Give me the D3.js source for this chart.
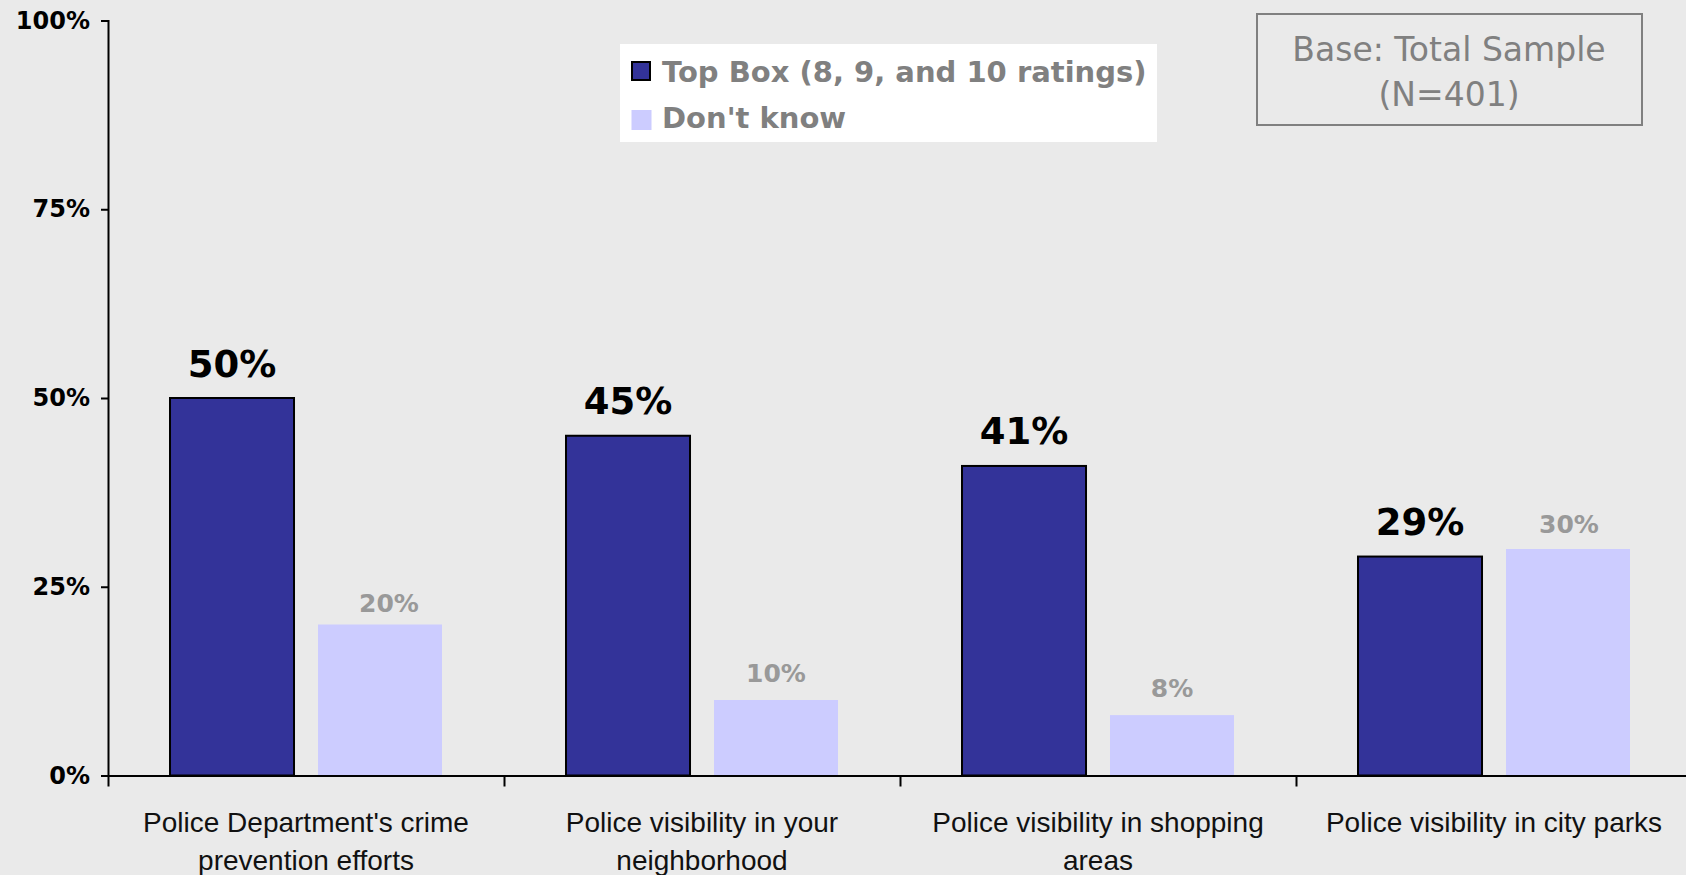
<!DOCTYPE html>
<html>
<head>
<meta charset="utf-8">
<script src="https://cdn.jsdelivr.net/npm/d3@7"></script>
<style>
  html, body { margin: 0; padding: 0; background: #EAEAEA; }
  svg { display: block; }
</style>
</head>
<body>
<script>
// Survey ratings of police performance
const categories = [
  ["Police Department's crime", "prevention efforts"],
  ["Police visibility in your", "neighborhood"],
  ["Police visibility in shopping", "areas"],
  ["Police visibility in city parks"]
];
const seriesNames = ["Top Box (8, 9, and 10 ratings)", "Don't know"];
const topBox = [50, 45, 41, 29];
const dontKnow = [20, 10, 8, 30];
const yTicks = [0, 25, 50, 75, 100];
const baseNote = ["Base: Total Sample", "(N=401)"];

const W = 1686, H = 875;
const colors = ["#333399", "#CCCCFF"];

const svg = d3.select("body").append("svg")
  .attr("width", W).attr("height", H);

svg.append("rect").attr("width", W).attr("height", H).attr("fill", "#EAEAEA");

const y = d3.scaleLinear().domain([0, 100]).range([775.5, 20.5]);
const x0 = d3.scaleBand()
  .domain(categories.map((d, i) => i))
  .range([108, 108 + 396 * categories.length]);
const x1 = d3.scaleBand()
  .domain([0, 1])
  .range([0, x0.bandwidth()])
  .paddingInner(0.162)
  .paddingOuter(0.419);

const series = [topBox, dontKnow];

// bars
series.forEach((vals, s) => {
  svg.append("g").selectAll("rect")
    .data(vals)
    .join("rect")
    .attr("x", (d, i) => x0(i) + x1(s))
    .attr("y", d => y(d))
    .attr("width", x1.bandwidth())
    .attr("height", d => y(0) - y(d))
    .attr("fill", colors[s])
    .attr("stroke", s === 0 ? "#000" : "none")
    .attr("stroke-width", 2);
});

// value labels
svg.append("g").selectAll("text")
  .data(topBox)
  .join("text")
  .attr("x", (d, i) => x0(i) + x1(0) + x1.bandwidth() / 2)
  .attr("y", d => y(d) - 21.5)
  .attr("text-anchor", "middle")
  .attr("font-family", "DejaVu Sans")
  .attr("font-weight", "bold")
  .attr("font-size", 37)
  .attr("fill", "#000")
  .text(d => d + "%");

// hand-placed nudges for the "Don't know" labels
const dkNudgeX = [9, 0, 0, 1];
const dkNudgeY = [12.5, 18.5, 18.5, 16];
svg.append("g").selectAll("text")
  .data(dontKnow)
  .join("text")
  .attr("x", (d, i) => x0(i) + x1(1) + x1.bandwidth() / 2 + dkNudgeX[i])
  .attr("y", (d, i) => y(d) - dkNudgeY[i])
  .attr("text-anchor", "middle")
  .attr("font-family", "DejaVu Sans")
  .attr("font-weight", "bold")
  .attr("font-size", 25)
  .attr("fill", "#999999")
  .text(d => d + "%");

// y axis
const yAxis = svg.append("g")
  .attr("transform", "translate(108,0)")
  .call(d3.axisLeft(y).tickValues(yTicks).tickFormat(d => d + "%")
    .tickSizeInner(7).tickSizeOuter(7).tickPadding(11));
yAxis.selectAll("path, line").attr("stroke", "#000").attr("stroke-width", 2);
yAxis.selectAll("text")
  .attr("font-family", "DejaVu Sans")
  .attr("font-weight", "bold")
  .attr("font-size", 24)
  .attr("fill", "#000");

// x axis with ticks between categories
const xEdge = d3.scaleLinear().domain([0, categories.length]).range(x0.range());
const xAxis = svg.append("g")
  .attr("transform", `translate(0,${y(0)})`)
  .call(d3.axisBottom(xEdge).tickValues(d3.range(categories.length + 1))
    .tickFormat("").tickSizeInner(11).tickSizeOuter(0));
xAxis.selectAll("path, line").attr("stroke", "#000").attr("stroke-width", 2);

// category labels
const catLabels = svg.append("g").selectAll("text")
  .data(categories)
  .join("text")
  .attr("x", (d, i) => x0(i) + x0.bandwidth() / 2)
  .attr("text-anchor", "middle")
  .attr("font-family", "Liberation Sans")
  .attr("font-size", 28)
  .attr("fill", "#111");
catLabels.selectAll("tspan")
  .data(d => d)
  .join("tspan")
  .attr("x", function () { return d3.select(this.parentNode).attr("x"); })
  .attr("y", (d, j) => 832 + j * 37.5)
  .text(d => d);

// legend
const legend = svg.append("g");
legend.append("rect")
  .attr("x", 620).attr("y", 44).attr("width", 537).attr("height", 98)
  .attr("fill", "#FFFFFF");
seriesNames.forEach((name, s) => {
  const base = 81.5 + s * 46.5;
  legend.append("rect")
    .attr("x", s === 0 ? 632 : 631.5).attr("y", s === 0 ? 62 : 110)
    .attr("width", s === 0 ? 18 : 20).attr("height", s === 0 ? 18 : 20)
    .attr("fill", colors[s])
    .attr("stroke", s === 0 ? "#000" : "none")
    .attr("stroke-width", 2);
  legend.append("text")
    .attr("x", 662).attr("y", base)
    .attr("font-family", "DejaVu Sans")
    .attr("font-weight", "bold")
    .attr("font-size", 29)
    .attr("fill", "#808080")
    .text(name);
});

// sample base note
const note = svg.append("g");
note.append("rect")
  .attr("x", 1257).attr("y", 14).attr("width", 385).attr("height", 111)
  .attr("fill", "none").attr("stroke", "#808080").attr("stroke-width", 2);
note.selectAll("text")
  .data(baseNote)
  .join("text")
  .attr("x", 1449)
  .attr("y", (d, i) => 61 + i * 45)
  .attr("text-anchor", "middle")
  .attr("font-family", "DejaVu Sans")
  .attr("font-size", 33)
  .attr("fill", "#808080")
  .text(d => d);
</script>
</body>
</html>
